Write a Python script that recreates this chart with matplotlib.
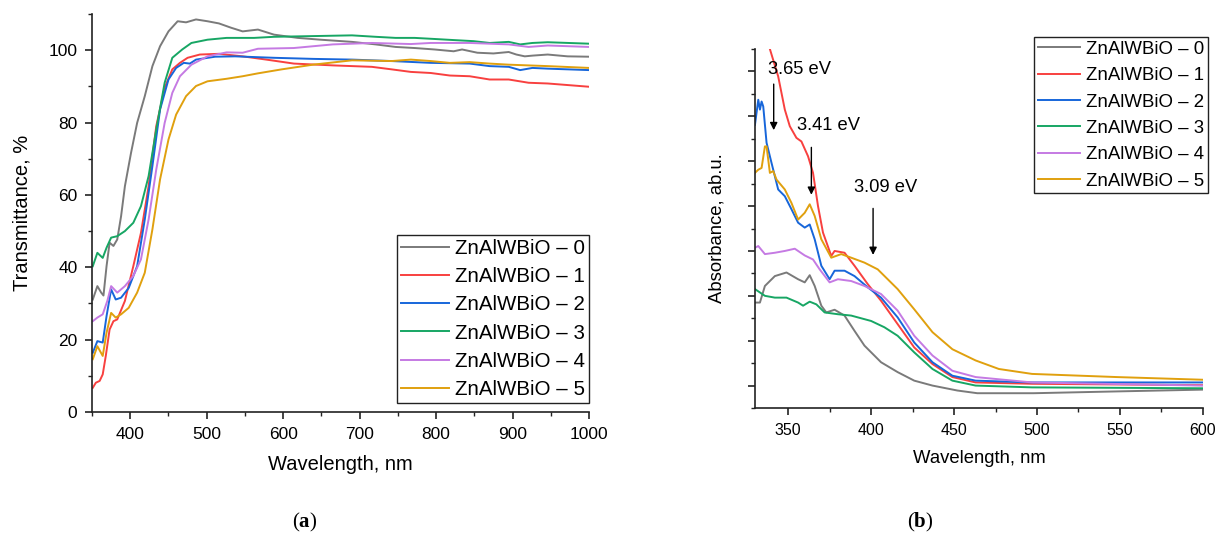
import matplotlib.pyplot as plt
from matplotlib.ticker import MultipleLocator, NullFormatter

plt.rcParams['font.family'] = ['Liberation Sans', 'DejaVu Sans']
plt.rcParams['mathtext.fontset'] = 'custom'
plt.rcParams['mathtext.rm'] = 'Liberation Serif'
plt.rcParams['mathtext.bf'] = 'Liberation Serif:bold'

LABELS = ["ZnAlWBiO \u2013 0", "ZnAlWBiO \u2013 1", "ZnAlWBiO \u2013 2",
          "ZnAlWBiO \u2013 3", "ZnAlWBiO \u2013 4", "ZnAlWBiO \u2013 5"]
COLORS = ['#7A7A7A', '#F8403F', '#1766DA', '#17A664', '#C57AE3', '#E0A00E']

# ---- (a) transmittance, %
wl_t0 = [351, 357, 362, 365, 369, 373, 378, 383, 388, 393, 401, 409, 419, 429, 439, 450, 462, 473, 486, 501,
         516, 532, 547, 567, 588, 619, 649, 690, 721, 747, 772, 798, 823, 834, 854, 875, 895, 905, 916, 926,
         946, 972, 1000]
t0 = [31.1, 34.8, 33.0, 32.2, 40.3, 46.8, 45.9, 47.7, 54.1, 62.4, 71.6, 79.9, 87.3, 95.6, 101.1, 105.2, 108.0,
      107.7, 108.5, 108.0, 107.4, 106.2, 105.2, 105.7, 104.3, 103.4, 102.9, 102.3, 101.6, 100.9, 100.6, 100.2,
      99.7, 100.2, 99.3, 99.1, 99.5, 98.8, 98.3, 98.5, 98.8, 98.3, 98.2]

wl_t1 = [351, 355, 360, 364, 368, 373, 378, 383, 393, 404, 414, 424, 434, 445, 455, 465, 475, 491, 516, 547,
         578, 614, 665, 716, 742, 767, 793, 818, 844, 870, 895, 921, 946, 1000]
t1 = [6.7, 8.1, 8.6, 10.4, 15.5, 22.8, 25.1, 25.6, 30.7, 40.3, 49.5, 62.4, 79.0, 89.6, 94.7, 96.5, 97.9, 98.8,
      99.0, 98.3, 97.4, 96.3, 95.8, 95.4, 94.7, 94.0, 93.7, 93.0, 92.8, 91.9, 91.9, 91.0, 90.8, 89.9]

wl_t2 = [351, 357, 364, 369, 375, 381, 388, 398, 409, 419, 429, 439, 450, 460, 470, 478, 486, 511, 537, 588,
         639, 690, 742, 793, 844, 870, 895, 910, 926, 946, 1000]
t2 = [16.4, 19.6, 19.2, 26.5, 33.9, 31.1, 31.6, 34.3, 40.3, 53.2, 68.0, 83.6, 91.9, 95.1, 96.5, 96.3, 97.4,
      98.2, 98.3, 97.9, 97.6, 97.4, 97.0, 96.5, 96.3, 95.6, 95.4, 94.5, 95.1, 94.9, 94.5]

wl_t3 = [351, 357, 364, 369, 375, 383, 393, 404, 414, 424, 434, 445, 455, 468, 480, 501, 526, 562, 588, 639,
         690, 721, 747, 772, 798, 823, 849, 870, 895, 910, 926, 946, 1000]
t3 = [40.3, 44.0, 42.6, 45.4, 48.2, 48.6, 50.0, 52.3, 56.9, 65.2, 78.1, 91.0, 97.9, 100.2, 102.0, 102.9, 103.4,
      103.4, 103.7, 103.9, 104.1, 103.7, 103.4, 103.4, 103.1, 102.8, 102.5, 102.0, 102.3, 101.6, 102.0, 102.2,
      101.8]

wl_t4 = [351, 357, 364, 370, 375, 383, 393, 404, 414, 424, 434, 445, 455, 465, 480, 501, 526, 547, 567, 614,
         665, 716, 767, 793, 844, 895, 921, 946, 1000]
t4 = [25.1, 26.1, 27.0, 30.7, 34.8, 33.0, 34.8, 37.6, 42.2, 53.2, 67.0, 79.9, 88.2, 92.8, 96.0, 98.3, 99.4,
      99.3, 100.4, 100.6, 101.6, 102.0, 101.7, 102.0, 102.0, 101.6, 100.9, 101.3, 100.9]

wl_t5 = [351, 357, 364, 369, 375, 381, 388, 398, 409, 419, 429, 439, 450, 460, 473, 486, 501, 526, 547, 567,
         598, 639, 690, 742, 767, 793, 818, 844, 870, 895, 946, 1000]
t5 = [14.6, 18.2, 15.5, 21.9, 27.4, 26.1, 27.0, 28.8, 33.0, 38.5, 50.5, 64.3, 75.3, 82.2, 87.3, 90.1, 91.4,
      92.1, 92.8, 93.6, 94.7, 96.0, 97.2, 97.0, 97.4, 97.0, 96.5, 96.7, 96.3, 96.0, 95.6, 95.1]

# ---- (b) absorbance, arbitrary units
wl_a0 = [330, 333, 336, 342, 349, 356, 360, 363, 366, 370, 373, 378, 384, 390, 396, 406, 416, 426, 437, 452,
         464, 498, 548, 600]
a0 = [1.85, 1.85, 2.22, 2.44, 2.52, 2.37, 2.30, 2.46, 2.22, 1.78, 1.63, 1.69, 1.56, 1.22, 0.89, 0.52, 0.30,
      0.11, 0.0, -0.11, -0.17, -0.17, -0.13, -0.09]

wl_a1 = [336, 339, 344, 348, 351, 355, 358, 362, 365, 368, 371, 376, 378, 384, 390, 398, 406, 416, 426, 437,
         449, 463, 497, 600]
a1 = [8.3, 7.5, 6.89, 6.15, 5.78, 5.52, 5.44, 5.11, 4.74, 4.0, 3.41, 2.89, 3.0, 2.96, 2.67, 2.26, 1.89, 1.37,
      0.85, 0.48, 0.19, 0.07, 0.04, 0.01]

wl_a2 = [330, 332, 333, 334, 335, 337, 340, 344, 348, 352, 356, 360, 363, 366, 370, 375, 378, 384, 390, 398,
         406, 416, 426, 437, 449, 463, 497, 600]
a2 = [5.81, 6.37, 6.15, 6.33, 6.22, 5.41, 4.96, 4.37, 4.22, 3.93, 3.63, 3.52, 3.59, 3.26, 2.67, 2.37, 2.56,
      2.56, 2.44, 2.19, 1.96, 1.52, 0.96, 0.52, 0.22, 0.11, 0.07, 0.07]

wl_a3 = [330, 336, 342, 349, 356, 359, 363, 367, 372, 380, 388, 400, 408, 416, 426, 437, 449, 463, 497, 600]
a3 = [2.15, 2.0, 1.96, 1.96, 1.85, 1.78, 1.87, 1.81, 1.63, 1.59, 1.56, 1.44, 1.30, 1.11, 0.74, 0.37, 0.11,
      0.0, -0.04, -0.06]

wl_a4 = [330, 332, 336, 342, 348, 354, 360, 365, 369, 375, 380, 388, 396, 406, 416, 426, 437, 449, 463, 497,
         600]
a4 = [3.07, 3.11, 2.93, 2.96, 3.0, 3.05, 2.90, 2.81, 2.59, 2.30, 2.37, 2.33, 2.22, 2.04, 1.67, 1.11, 0.67,
      0.33, 0.19, 0.07, 0.0]

wl_a5 = [330, 332, 334, 336, 337, 339, 341, 343, 348, 352, 356, 360, 363, 366, 370, 376, 382, 388, 396, 404,
         416, 426, 437, 449, 463, 477, 497, 548, 600]
a5 = [4.74, 4.81, 4.85, 5.33, 5.33, 4.74, 4.78, 4.59, 4.37, 4.07, 3.70, 3.85, 4.04, 3.78, 3.26, 2.85, 2.93,
      2.85, 2.74, 2.59, 2.15, 1.70, 1.19, 0.81, 0.56, 0.37, 0.26, 0.19, 0.13]

PEAK_TEXT = ["3.65 eV", "3.41 eV", "3.09 eV"]
PEAK_WL = [341.3, 364.0, 401.2]
ARROW_TOP = [6.78, 5.37, 4.01]
ARROW_TIP = [5.63, 4.19, 2.85]
TEXT_X = [337.9, 355.6, 389.9]
TEXT_Y = [7.04, 5.79, 4.42]

fig = plt.figure(figsize=(12.22, 5.41), dpi=100)
fig.patch.set_facecolor('white')
ax1 = fig.add_axes([0.0753, 0.2384, 0.4067, 0.7357])
ax2 = fig.add_axes([0.6178, 0.2458, 0.3666, 0.6636])


def style(ax, size):
    for s in ('top', 'right'):
        ax.spines[s].set_visible(False)
    for s in ('left', 'bottom'):
        ax.spines[s].set_linewidth(1.2)
        ax.spines[s].set_color('#222222')
    ax.tick_params(which='major', direction='out', length=5, width=1.2, labelsize=size, color='#222222', pad=5.5)
    ax.tick_params(which='minor', direction='out', length=3, width=1.0, color='#222222')


# (a)
for wl, v, c, lab in zip([wl_t0, wl_t1, wl_t2, wl_t3, wl_t4, wl_t5], [t0, t1, t2, t3, t4, t5], COLORS, LABELS):
    ax1.plot(wl, v, color=c, lw=1.4, label=lab)
ax1.set_xlim(350, 1000)
ax1.set_ylim(0, 110)
ax1.xaxis.set_major_locator(MultipleLocator(100))
ax1.xaxis.set_minor_locator(MultipleLocator(50))
ax1.yaxis.set_major_locator(MultipleLocator(20))
ax1.yaxis.set_minor_locator(MultipleLocator(10))
style(ax1, 12.5)
ax1.set_xlabel("Wavelength, nm", fontsize=14.5, labelpad=10)
ax1.set_ylabel("Transmittance, %", fontsize=14.5, labelpad=12)
leg1 = ax1.legend(loc='lower right', bbox_to_anchor=(1.0, 0.022), fontsize=14.8, frameon=True, fancybox=False,
                  edgecolor='#222222', framealpha=1, borderpad=0.2, labelspacing=0.45, handlelength=2.3,
                  handletextpad=0.3, borderaxespad=0)
leg1.get_frame().set_linewidth(1.0)

# (b)
for wl, v, c, lab in zip([wl_a0, wl_a1, wl_a2, wl_a3, wl_a4, wl_a5], [a0, a1, a2, a3, a4, a5], COLORS, LABELS):
    ax2.plot(wl, v, color=c, lw=1.4, label=lab)
ax2.set_xlim(330, 600)
ax2.set_ylim(-0.5, 7.5)
ax2.xaxis.set_major_locator(MultipleLocator(50))
ax2.xaxis.set_minor_locator(MultipleLocator(25))
ax2.yaxis.set_major_locator(MultipleLocator(1))
ax2.yaxis.set_minor_locator(MultipleLocator(0.5))
ax2.yaxis.set_major_formatter(NullFormatter())
style(ax2, 11.5)
ax2.set_xlabel("Wavelength, nm", fontsize=13.3, labelpad=9)
ax2.set_ylabel("Absorbance, ab.u.", fontsize=13.3, labelpad=11)
for txt, xw, y0, y1, tx, ty in zip(PEAK_TEXT, PEAK_WL, ARROW_TOP, ARROW_TIP, TEXT_X, TEXT_Y):
    ax2.annotate('', xy=(xw, y1), xytext=(xw, y0),
                 arrowprops=dict(arrowstyle='-|>', color='black', lw=1.0, mutation_scale=11))
    ax2.text(tx, ty, txt, fontsize=13.2, ha='left', va='center')
leg2 = ax2.legend(loc='upper right', bbox_to_anchor=(1.011, 1.033), fontsize=13.4, frameon=True, fancybox=False,
                  edgecolor='#222222', framealpha=1, borderpad=0.2, labelspacing=0.5, handlelength=2.3,
                  handletextpad=0.3, borderaxespad=0)
leg2.get_frame().set_linewidth(1.0)

fig.text(0.2495, 0.035, r"($\mathbf{a}$)", fontsize=15, ha='center', va='center', family='Liberation Serif')
fig.text(0.7529, 0.035, r"($\mathbf{b}$)", fontsize=15, ha='center', va='center', family='Liberation Serif')

fig.savefig('out.png', dpi=100, facecolor='white')
print("saved")
